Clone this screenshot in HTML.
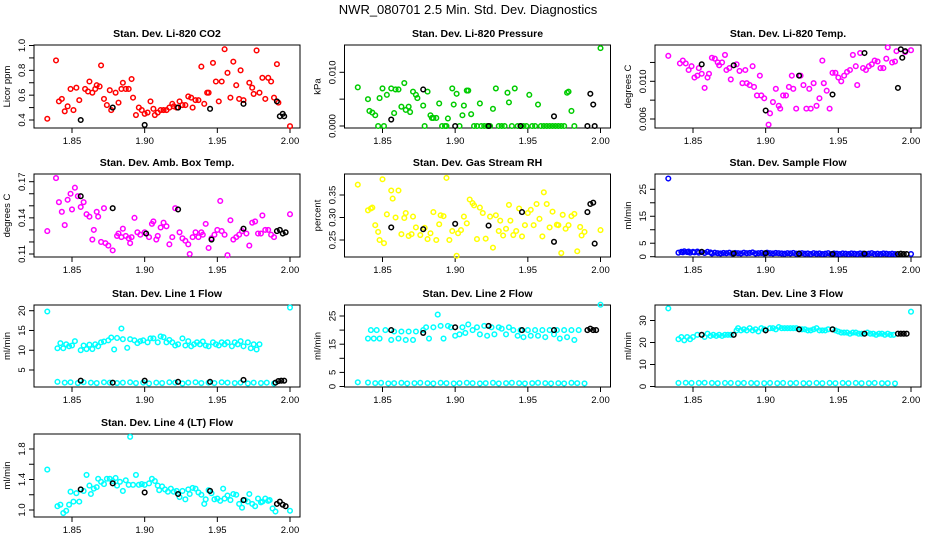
<!DOCTYPE html>
<html><head><meta charset="utf-8">
<style>
html,body{margin:0;padding:0;background:#fff;}
svg{display:block;font-family:"Liberation Sans",sans-serif;}
</style></head>
<body>
<svg id="chart" width="936" height="540" viewBox="0 0 936 540" xmlns="http://www.w3.org/2000/svg">
<rect width="936" height="540" fill="#fff"/>
<text x="468" y="14" text-anchor="middle" font-size="13">NWR_080701  2.5 Min. Std. Dev. Diagnostics</text>
</svg>
<script>
// ---- data (x = time, y = std dev) ----
const p1X=[1.833,1.839,1.841,1.843,1.845,1.847,1.849,1.851,1.853,1.855,1.859,1.861,1.862,1.864,1.866,1.867,1.869,1.870,1.872,1.874,1.876,1.877,1.880,1.882,1.884,1.885,1.887,1.889,1.891,1.892,1.894,1.896,1.898,1.900,1.902,1.904,1.906,1.907,1.909,1.911,1.913,1.915,1.917,1.919,1.920,1.922,1.924,1.926,1.928,1.930,1.932,1.933,1.935,1.937,1.939,1.941,1.943,1.944,1.947,1.949,1.951,1.953,1.955,1.957,1.959,1.961,1.963,1.965,1.966,1.968,1.972,1.974,1.975,1.977,1.979,1.981,1.983,1.985,1.987,1.989,1.991,1.992,2.000];
const p1Y=[0.41,0.88,0.55,0.57,0.47,0.51,0.65,0.48,0.66,0.56,0.65,0.63,0.71,0.62,0.65,0.68,0.67,0.84,0.57,0.52,0.64,0.48,0.62,0.54,0.65,0.70,0.65,0.65,0.73,0.58,0.44,0.50,0.48,0.45,0.46,0.55,0.49,0.44,0.46,0.48,0.48,0.48,0.50,0.53,0.51,0.50,0.55,0.52,0.52,0.59,0.58,0.50,0.56,0.56,0.83,0.53,0.62,0.62,0.86,0.71,0.55,0.71,0.97,0.78,0.58,0.87,0.68,0.57,0.80,0.56,0.70,0.66,0.61,0.96,0.62,0.74,0.57,0.74,0.71,0.58,0.85,0.54,0.35];
const p1BX=[1.856,1.878,1.900,1.923,1.945,1.968,1.991,1.993,1.995,1.996];
const p1BY=[0.40,0.50,0.36,0.50,0.49,0.53,0.55,0.43,0.45,0.43];

const p2X=[1.833,1.840,1.841,1.843,1.845,1.847,1.848,1.850,1.851,1.853,1.856,1.858,1.859,1.861,1.863,1.865,1.866,1.868,1.869,1.871,1.873,1.874,1.878,1.879,1.881,1.883,1.884,1.885,1.887,1.889,1.891,1.893,1.894,1.895,1.898,1.899,1.901,1.903,1.905,1.906,1.908,1.909,1.911,1.913,1.915,1.917,1.918,1.920,1.922,1.924,1.926,1.928,1.930,1.932,1.934,1.936,1.937,1.939,1.941,1.943,1.945,1.947,1.949,1.951,1.953,1.955,1.957,1.959,1.961,1.963,1.965,1.967,1.969,1.971,1.973,1.975,1.977,1.978,1.980,1.982,2.000];
const p2Y=[0.0072,0.0050,0.0028,0.0025,0.0020,0,0.0052,0.0070,0,0.0058,0.0070,0.0024,0.0068,0.0068,0.0036,0.0080,0.0030,0.0036,0.0026,0.0064,0.0058,0.0052,0.0038,0,0.0064,0.0020,0.0015,0.0015,0.0015,0.0042,0,0,0,0.0014,0.0070,0.0040,0.0060,0,0.0020,0.0038,0.0066,0.0066,0.0022,0,0,0.0042,0,0,0,0,0.0032,0.0070,0,0,0,0.0062,0.0044,0,0.0070,0,0,0,0,0.0058,0,0,0.0040,0,0,0,0,0,0,0,0,0,0.0062,0.0064,0.0028,0,0.0145];
const p2BX=[1.856,1.878,1.900,1.923,1.945,1.968,1.991,1.993,1.995,1.996];
const p2BY=[0.0012,0.0068,0,0,0,0.0018,0,0.0060,0.0040,0];

const p3X=[1.833,1.841,1.843,1.845,1.847,1.849,1.851,1.853,1.854,1.856,1.858,1.860,1.861,1.863,1.865,1.867,1.868,1.870,1.872,1.873,1.875,1.876,1.880,1.882,1.884,1.886,1.887,1.889,1.891,1.892,1.894,1.896,1.897,1.899,1.903,1.902,1.905,1.907,1.909,1.910,1.912,1.914,1.916,1.918,1.919,1.921,1.924,1.926,1.928,1.930,1.931,1.933,1.935,1.937,1.939,1.940,1.942,1.944,1.946,1.948,1.950,1.952,1.954,1.956,1.958,1.960,1.962,1.963,1.965,1.967,1.969,1.971,1.973,1.975,1.977,1.979,1.981,1.983,1.984,1.987,1.990,1.989,1.996,2.000];
const p3Y=[0.0127,0.0119,0.0122,0.0119,0.0112,0.0116,0.0104,0.0106,0.0114,0.0108,0.0093,0.0104,0.0108,0.0125,0.0124,0.0120,0.0117,0.0120,0.0128,0.0112,0.0114,0.0102,0.0118,0.0111,0.0098,0.0112,0.0098,0.0096,0.0116,0.0094,0.0085,0.0106,0.0085,0.0082,0.0066,0.0054,0.0078,0.0092,0.0074,0.0071,0.0085,0.0085,0.0094,0.0106,0.0092,0.0071,0.0106,0.0096,0.0071,0.0092,0.0071,0.0098,0.0074,0.0082,0.0122,0.0098,0.0090,0.0071,0.0109,0.0109,0.0104,0.0100,0.0106,0.0110,0.0112,0.0128,0.0116,0.0096,0.0130,0.0114,0.0112,0.0116,0.0118,0.0122,0.0121,0.0114,0.0114,0.0124,0.0136,0.0120,0.0132,0.0121,0.0131,0.0133];
const p3BX=[1.856,1.878,1.900,1.923,1.946,1.968,1.991,1.993,1.994,1.996];
const p3BY=[0.0118,0.0117,0.0069,0.0106,0.0086,0.0130,0.0093,0.0134,0.0125,0.0132];

const p4X=[1.833,1.839,1.841,1.843,1.845,1.847,1.849,1.850,1.852,1.854,1.856,1.858,1.860,1.862,1.864,1.865,1.867,1.868,1.870,1.872,1.873,1.875,1.878,1.881,1.882,1.884,1.885,1.887,1.889,1.890,1.891,1.893,1.895,1.897,1.900,1.903,1.905,1.906,1.908,1.909,1.911,1.913,1.915,1.917,1.919,1.921,1.924,1.926,1.928,1.930,1.931,1.933,1.935,1.937,1.939,1.940,1.942,1.944,1.946,1.948,1.950,1.952,1.953,1.955,1.957,1.959,1.961,1.963,1.965,1.967,1.970,1.972,1.974,1.976,1.978,1.980,1.981,1.983,1.985,1.987,1.989,2.000];
const p4Y=[0.129,0.173,0.153,0.145,0.134,0.155,0.160,0.147,0.165,0.158,0.149,0.153,0.143,0.141,0.122,0.130,0.145,0.141,0.120,0.148,0.119,0.117,0.113,0.125,0.127,0.124,0.131,0.125,0.123,0.119,0.124,0.140,0.128,0.126,0.128,0.124,0.135,0.137,0.122,0.125,0.132,0.136,0.133,0.118,0.124,0.148,0.128,0.123,0.121,0.118,0.110,0.124,0.128,0.124,0.128,0.126,0.135,0.115,0.123,0.126,0.130,0.154,0.129,0.126,0.109,0.138,0.122,0.124,0.126,0.129,0.127,0.117,0.136,0.137,0.127,0.127,0.142,0.130,0.130,0.126,0.124,0.143];
const p4BX=[1.856,1.878,1.901,1.923,1.946,1.968,1.991,1.993,1.995,1.997];
const p4BY=[0.158,0.148,0.127,0.147,0.122,0.131,0.129,0.130,0.127,0.128];

const p5X=[1.833,1.840,1.842,1.843,1.845,1.847,1.848,1.850,1.851,1.853,1.856,1.857,1.859,1.861,1.863,1.865,1.866,1.868,1.870,1.871,1.873,1.876,1.879,1.881,1.883,1.885,1.887,1.889,1.890,1.892,1.894,1.896,1.898,1.901,1.902,1.904,1.906,1.908,1.910,1.912,1.913,1.915,1.917,1.919,1.921,1.924,1.926,1.928,1.930,1.931,1.933,1.935,1.937,1.938,1.940,1.942,1.944,1.946,1.948,1.950,1.952,1.954,1.956,1.958,1.960,1.961,1.963,1.965,1.967,1.970,1.971,1.973,1.974,1.976,1.978,1.980,1.982,1.984,1.986,1.987,1.989,2.000];
const p5Y=[0.373,0.316,0.320,0.322,0.283,0.268,0.250,0.385,0.243,0.307,0.360,0.342,0.300,0.360,0.263,0.299,0.310,0.259,0.263,0.302,0.278,0.261,0.277,0.252,0.265,0.312,0.250,0.285,0.305,0.303,0.388,0.250,0.270,0.215,0.265,0.272,0.302,0.287,0.340,0.332,0.327,0.252,0.322,0.310,0.253,0.302,0.233,0.305,0.270,0.293,0.260,0.275,0.328,0.293,0.261,0.270,0.320,0.258,0.283,0.310,0.317,0.283,0.330,0.297,0.258,0.356,0.330,0.278,0.313,0.284,0.283,0.221,0.306,0.275,0.283,0.303,0.308,0.225,0.279,0.260,0.268,0.272];
const p5BX=[1.856,1.878,1.900,1.923,1.946,1.968,1.991,1.993,1.995,1.996];
const p5BY=[0.278,0.274,0.286,0.282,0.312,0.246,0.312,0.330,0.333,0.242];

const p6X=[1.833,1.840,1.842,1.843,1.844,1.846,1.847,1.848,1.850,1.851,1.853,1.854,1.856,1.858,1.860,1.862,1.863,1.865,1.867,1.869,1.871,1.873,1.875,1.877,1.879,1.881,1.883,1.885,1.887,1.889,1.891,1.893,1.895,1.897,1.899,1.901,1.903,1.905,1.907,1.909,1.911,1.913,1.915,1.917,1.919,1.921,1.923,1.925,1.927,1.929,1.931,1.933,1.935,1.937,1.939,1.941,1.943,1.945,1.947,1.949,1.951,1.953,1.955,1.957,1.959,1.961,1.963,1.965,1.967,1.969,1.971,1.973,1.975,1.977,1.979,1.981,1.983,1.985,1.987,1.989,2.000];
const p6Y=[29,1.5,1.8,1.6,2.0,1.7,1.9,1.5,1.8,1.6,1.9,1.5,1.7,1.4,1.8,1.6,1.2,1.5,1.3,1.2,1.4,1.3,1.5,1.2,1.4,1.3,1.2,1.5,1.3,1.4,1.6,1.2,1.3,1.4,1.2,1.5,1.3,1.2,1.4,1.3,1.2,1.1,1.3,1.2,1.4,1.1,1.2,1.3,1.1,1.2,1.0,1.3,1.1,1.2,1.0,1.1,1.3,1.0,1.2,1.1,1.0,1.2,1.1,1.0,1.2,1.1,1.0,1.2,1.1,1.0,1.1,1.3,1.0,1.1,1.0,1.2,1.1,1.0,1.1,1.0,1.0];
const p6BX=[1.856,1.878,1.900,1.923,1.946,1.968,1.991,1.993,1.995,1.997];
const p6BY=[1.8,1.2,1.3,1.1,1.0,1.1,1.0,1.1,1.0,1.0];

const lowX=[1.840,1.845,1.849,1.854,1.858,1.863,1.867,1.872,1.876,1.881,1.885,1.890,1.894,1.899,1.903,1.908,1.912,1.917,1.921,1.926,1.930,1.935,1.939,1.944,1.948,1.953,1.957,1.962,1.966,1.971,1.975,1.980,1.984,1.989];

const p7X=[1.833,1.840,1.842,1.844,1.846,1.848,1.850,1.852,1.856,1.858,1.860,1.862,1.864,1.866,1.868,1.870,1.872,1.875,1.877,1.879,1.881,1.884,1.885,1.888,1.890,1.893,1.895,1.897,1.899,1.902,1.904,1.906,1.909,1.911,1.913,1.915,1.917,1.919,1.921,1.923,1.926,1.928,1.930,1.932,1.934,1.936,1.938,1.940,1.942,1.944,1.947,1.949,1.951,1.953,1.955,1.957,1.960,1.962,1.964,1.966,1.968,1.971,1.973,1.975,1.977,1.979,2.000];
const p7Y=[19.8,10.5,11.8,10.5,11.5,11.0,11.2,12.3,10.0,11.2,10.3,11.4,10.3,11.5,11.0,12.0,12.2,12.5,13.2,10.2,13.1,15.5,12.8,10.6,12.8,12.5,11.8,12.3,12.5,12.0,13.0,13.0,12.0,13.5,13.3,12.0,12.6,12.0,11.2,11.5,13.0,11.2,12.3,11.0,11.5,12.0,11.5,12.2,11.2,11.0,12.0,11.5,11.2,12.0,11.5,12.0,11.0,12.0,11.5,12.3,11.0,12.0,10.5,11.5,10.2,11.5,20.8];
const p7LowY=[2.0,1.8,1.9,1.7,1.9,1.8,1.7,1.9,1.8,1.7,1.8,1.9,1.7,1.8,1.6,1.8,1.7,1.9,1.8,1.6,1.8,1.9,1.7,1.8,1.7,1.9,1.8,1.7,1.8,1.6,1.8,1.7,1.8,1.6];
const p7BX=[1.856,1.878,1.900,1.923,1.945,1.968,1.990,1.992,1.994,1.996];
const p7BY=[2.3,1.8,2.3,2.0,2.0,2.5,1.8,2.2,2.3,2.3];

const p8X=[1.833,1.840,1.842,1.844,1.846,1.848,1.852,1.856,1.858,1.861,1.863,1.866,1.868,1.871,1.873,1.878,1.880,1.882,1.885,1.888,1.890,1.892,1.895,1.897,1.900,1.903,1.905,1.907,1.909,1.912,1.915,1.917,1.920,1.922,1.925,1.927,1.930,1.932,1.935,1.937,1.940,1.943,1.945,1.947,1.950,1.952,1.955,1.957,1.960,1.962,1.965,1.968,1.970,1.972,1.975,1.977,1.980,1.982,1.985,2.000];
const p8Y=[1.5,17,20,17,20,17,20,16.5,19.5,17,19.5,16.5,19.5,16.5,19.5,20,21,17,21,25.5,21.5,17,21.5,21,18,18.5,21,19,22,20,21,18.5,21.5,18,21,18.5,21,20.5,18.5,21,20,18,20,17.5,20,18,20,18,20,17.5,20,18.5,20,17,20,17.5,20,16.5,20,29];
const p8LowY=[1.4,1.2,1.3,1.1,1.2,1.3,1.1,1.2,1.3,1.2,1.1,1.3,1.2,1.1,1.2,1.3,1.2,1.1,1.2,1.3,1.1,1.2,1.3,1.2,1.1,1.2,1.3,1.2,1.1,1.2,1.1,1.3,1.2,1.1];
const p8BX=[1.856,1.878,1.900,1.923,1.946,1.968,1.991,1.993,1.995,1.997];
const p8BY=[20,19,21,21.5,20,20,20,20.5,20,20];

const p9X=[1.833,1.840,1.842,1.844,1.846,1.848,1.850,1.853,1.858,1.860,1.862,1.864,1.866,1.868,1.870,1.872,1.874,1.876,1.880,1.881,1.883,1.885,1.887,1.889,1.891,1.893,1.895,1.897,1.899,1.903,1.905,1.907,1.909,1.911,1.913,1.915,1.917,1.919,1.921,1.925,1.927,1.929,1.931,1.933,1.935,1.937,1.939,1.941,1.943,1.948,1.950,1.952,1.954,1.956,1.958,1.960,1.962,1.964,1.966,1.970,1.972,1.974,1.976,1.978,1.980,1.982,1.984,1.986,1.988,2.000];
const p9Y=[35.5,21.5,22.5,21,22.5,21.5,22.5,23.5,22.5,24,23,23.5,23,23.5,23,23.5,23.5,23.5,25.5,26.5,25.5,26,25.5,26.5,25.5,26,25,26.5,26,26.5,26.5,26,27,26.5,26.5,26.5,26.5,26.5,26.5,26,26,25.5,25.5,26,26.5,25.5,25.5,25.5,26,25.5,25,24.5,24.5,24.5,24,24.5,24.5,24,24,24.5,24,24,23.5,24,24,23.5,24,23.5,23.5,34];
const p9LowY=[1.6,1.7,1.6,1.6,1.7,1.6,1.5,1.6,1.6,1.5,1.6,1.6,1.5,1.5,1.6,1.5,1.6,1.5,1.6,1.5,1.5,1.6,1.5,1.6,1.5,1.6,1.5,1.6,1.5,1.5,1.6,1.5,1.5,1.4];
const p9BX=[1.856,1.878,1.900,1.923,1.946,1.968,1.991,1.993,1.995,1.997];
const p9BY=[23.5,23.5,25.5,26,26,24,24,24,24,24];

const p10X=[1.833,1.840,1.842,1.844,1.846,1.848,1.849,1.851,1.853,1.855,1.858,1.860,1.862,1.863,1.865,1.867,1.868,1.870,1.872,1.874,1.876,1.878,1.880,1.881,1.883,1.885,1.887,1.889,1.890,1.892,1.894,1.896,1.898,1.900,1.903,1.905,1.907,1.909,1.910,1.912,1.914,1.916,1.918,1.920,1.922,1.924,1.926,1.928,1.930,1.931,1.933,1.935,1.937,1.939,1.941,1.942,1.944,1.946,1.948,1.950,1.952,1.954,1.955,1.957,1.959,1.961,1.963,1.965,1.967,1.969,1.971,1.972,1.974,1.976,1.978,1.980,1.981,1.983,1.985,1.986,1.988,1.990,2.000];
const p10Y=[1.53,1.05,1.07,0.96,0.99,1.07,1.24,1.11,1.22,1.11,1.25,1.46,1.32,1.21,1.28,1.30,1.41,1.37,1.34,1.41,1.41,1.38,1.42,1.32,1.37,1.25,1.39,1.33,1.96,1.33,1.46,1.33,1.34,1.33,1.35,1.41,1.38,1.32,1.26,1.31,1.27,1.24,1.28,1.24,1.25,1.17,1.25,1.14,1.27,1.21,1.29,1.28,1.23,1.20,1.08,1.14,1.26,1.22,1.14,1.15,1.12,1.28,1.15,1.19,1.13,1.21,1.20,1.08,1.03,1.13,1.11,1.21,1.08,1.05,1.15,1.10,1.11,1.15,1.12,1.13,1.02,0.98,0.99];
const p10BX=[1.856,1.878,1.900,1.923,1.945,1.968,1.991,1.993,1.995,1.997];
const p10BY=[1.27,1.35,1.23,1.21,1.25,1.13,1.08,1.11,1.07,1.05];

const xTicks=[1.85,1.90,1.95,2.00];
const xTickLabels=["1.85","1.90","1.95","2.00"];

// ---- layout ----
const NS="http://www.w3.org/2000/svg";
const svg=document.getElementById('chart');
const colLeft=[34,344.5,655], colRight=[300,610.5,921], colOff=[0,310.5,621];
const rowTop=[45,174,305,434], rowBot=[128,257,387,517];
function mk(tag,attrs,parent){const e=document.createElementNS(NS,tag);for(const k in attrs)e.setAttribute(k,attrs[k]);(parent||svg).appendChild(e);return e;}

const panels=[
 {t:"Stan. Dev. Li-820 CO2",yl:"Licor ppm",c:0,r:0,col:"#ff0000",series:[[p1X,p1Y]],bx:p1BX,by:p1BY,map:[0.4,120,1.0,45.5],ticks:[0.4,0.5,0.6,0.7,0.8,0.9,1.0],lab:{"0.4":"0.4","0.6":"0.6","0.8":"0.8","1":"1.0"}},
 {t:"Stan. Dev. Li-820 Pressure",yl:"kPa",c:1,r:0,col:"#00cc00",series:[[p2X,p2Y]],bx:p2BX,by:p2BY,map:[0,126,0.01,72.3],ticks:[0,0.005,0.01],lab:{"0":"0.000","0.01":"0.010"}},
 {t:"Stan. Dev. Li-820 Temp.",yl:"degrees C",c:2,r:0,col:"#ff00ff",series:[[p3X,p3Y]],bx:p3BX,by:p3BY,map:[0.006,119,0.010,81.3],ticks:[0.006,0.008,0.010,0.012],lab:{"0.006":"0.006","0.01":"0.010"}},
 {t:"Stan. Dev. Amb. Box Temp.",yl:"degrees C",c:0,r:1,col:"#ff00ff",series:[[p4X,p4Y]],bx:p4BX,by:p4BY,map:[0.11,254,0.17,181.7],ticks:[0.11,0.12,0.13,0.14,0.15,0.16,0.17],lab:{"0.11":"0.11","0.14":"0.14","0.17":"0.17"}},
 {t:"Stan. Dev. Gas Stream RH",yl:"percent",c:1,r:1,col:"#ffff00",series:[[p5X,p5Y]],bx:p5BX,by:p5BY,map:[0.25,240,0.35,195],ticks:[0.25,0.30,0.35],lab:{"0.25":"0.25","0.3":"0.30","0.35":"0.35"}},
 {t:"Stan. Dev. Sample Flow",yl:"ml/min",c:2,r:1,col:"#0000ff",series:[[p6X,p6Y]],bx:p6BX,by:p6BY,map:[0,256.7,25,189.3],ticks:[0,5,10,15,20,25],lab:{"0":"0","5":"5","15":"15","25":"25"}},
 {t:"Stan. Dev. Line 1 Flow",yl:"ml/min",c:0,r:2,col:"#00ffff",series:[[p7X,p7Y],[lowX,p7LowY]],bx:p7BX,by:p7BY,map:[5,370,20,310.7],ticks:[5,10,15,20],lab:{"5":"5","10":"10","15":"15","20":"20"}},
 {t:"Stan. Dev. Line 2 Flow",yl:"ml/min",c:1,r:2,col:"#00ffff",series:[[p8X,p8Y],[lowX,p8LowY]],bx:p8BX,by:p8BY,map:[0,386.5,25,316],ticks:[0,5,10,15,20,25],lab:{"0":"0","5":"5","15":"15","25":"25"}},
 {t:"Stan. Dev. Line 3 Flow",yl:"ml/min",c:2,r:2,col:"#00ffff",series:[[p9X,p9Y],[lowX,p9LowY]],bx:p9BX,by:p9BY,map:[0,386.5,30,320.5],ticks:[0,10,20,30],lab:{"0":"0","10":"10","20":"20","30":"30"}},
 {t:"Stan. Dev. Line 4 (LT) Flow",yl:"ml/min",c:0,r:3,col:"#00ffff",series:[[p10X,p10Y]],bx:p10BX,by:p10BY,map:[1.0,510,1.8,449],ticks:[1.0,1.2,1.4,1.6,1.8],lab:{"1":"1.0","1.4":"1.4","1.8":"1.8"}}
];

panels.forEach((p,i)=>{
 const L=colLeft[p.c],R=colRight[p.c],T=rowTop[p.r],B=rowBot[p.r],off=colOff[p.c];
 const xs=v=>72+off+(v-1.85)*(218/0.15);
 const ys=v=>p.map[1]+(v-p.map[0])*(p.map[3]-p.map[1])/(p.map[2]-p.map[0]);
 const g=mk('g',{});
 
 
 const tt=mk('text',{x:(L+R)/2,y:T-8,'text-anchor':'middle','font-size':'10.5','font-weight':'bold'},g);
 tt.textContent=p.t;
 
 
 const box=mk('rect',{x:L,y:T,width:R-L,height:B-T,fill:'none',stroke:'#000','stroke-width':1},g);
 
 
 xTicks.forEach((v,k)=>{
  const x=xs(v);
  mk('line',{x1:x,x2:x,y1:B,y2:B+5,stroke:'#000'},g);
  const tl=mk('text',{x:x,y:B+16,'text-anchor':'middle','font-size':'9.5'},g);
  tl.textContent=xTickLabels[k];
  
  
 });
 p.ticks.forEach(v=>{
  const y=ys(v);
  mk('line',{x1:L-5,x2:L,y1:y,y2:y,stroke:'#000'},g);
  const key=String(+v.toFixed(4));
  if(p.lab[key]!==undefined){
   const tl=mk('text',{x:0,y:0,'text-anchor':'middle','font-size':'9.5',transform:`translate(${L-9},${y}) rotate(-90)`},g);
   tl.textContent=p.lab[key];
   
   
  }
 });
 const yt=mk('text',{x:0,y:0,'text-anchor':'middle','font-size':'9.5',transform:`translate(${L-24},${(T+B)/2}) rotate(-90)`},g);
 yt.textContent=p.yl;
 
 
 p.series.forEach(s=>{
  s[0].forEach((xv,k)=>{
   const c=mk('circle',{cx:xs(xv),cy:ys(s[1][k]),r:2.3,fill:'none',stroke:p.col,'stroke-width':1.5},g);
   
   
  });
 });
 p.bx.forEach((xv,k)=>{
  const c=mk('circle',{cx:xs(xv),cy:ys(p.by[k]),r:2.3,fill:'none',stroke:'#000','stroke-width':1.5},g);
  
  
 });
});
</script>
</body></html>
